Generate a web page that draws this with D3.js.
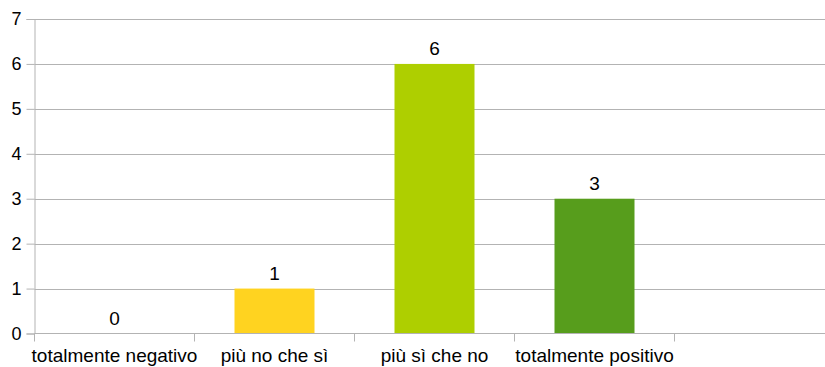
<!DOCTYPE html>
<html>
<head>
<meta charset="utf-8">
<script src="https://cdn.jsdelivr.net/npm/d3@7"></script>
<style>
  html, body { margin: 0; padding: 0; background: #fff; }
  svg { display: block; }
  text { font-family: "Liberation Sans", Arial, sans-serif; fill: #000; }
</style>
</head>
<body>
<svg id="chart" width="825" height="367"></svg>
<script>
// Giudizi raccolti, quattro categorie
const categories = ["totalmente negativo", "più no che sì", "più sì che no", "totalmente positivo"];
const values = [0, 1, 6, 3];
const colors = ["#004586", "#ffd320", "#aecf00", "#579d1c"];
const yTicks = [0, 1, 2, 3, 4, 5, 6, 7];

const W = 825, H = 367;
const plotLeft = 34.5, plotTop = 19, plotBottom = 333.5;
const slotCount = 5;                 // one empty slot on the right
const slotWidth = 160;
const gridColor = "#b3b3b3";

const svg = d3.select("#chart");

const slot = d3.scaleBand()
  .domain(d3.range(slotCount))
  .range([plotLeft, plotLeft + slotCount * slotWidth])
  .padding(0);

const y = d3.scaleLinear().domain([0, 7]).range([plotBottom, plotTop]);

// horizontal grid lines
svg.append("g")
  .selectAll("line")
  .data(yTicks.filter(d => d > 0))
  .join("line")
  .attr("x1", plotLeft).attr("x2", W)
  .attr("y1", d => Math.round(y(d)) + 0.5).attr("y2", d => Math.round(y(d)) + 0.5)
  .attr("stroke", gridColor).attr("stroke-width", 1);

// bars
const bw = slot.bandwidth();
svg.append("g")
  .selectAll("rect")
  .data(values)
  .join("rect")
  .attr("x", (d, i) => slot(i) + bw * 0.25)
  .attr("width", bw * 0.5)
  .attr("y", d => y(d))
  .attr("height", d => y(0) - y(d))
  .attr("fill", (d, i) => colors[i]);

// value labels
svg.append("g")
  .selectAll("text")
  .data(values)
  .join("text")
  .attr("x", (d, i) => slot(i) + bw / 2)
  .attr("y", d => y(d) - 9)
  .attr("text-anchor", "middle")
  .attr("font-size", 19)
  .text(d => d);

// y axis
const yAxis = d3.axisLeft(y).tickValues(yTicks).tickSize(8).tickPadding(5).tickFormat(d3.format("d"));
const gy = svg.append("g").attr("transform", `translate(${plotLeft},0)`).call(yAxis);
gy.select(".domain").attr("stroke", gridColor);
gy.selectAll(".tick line").attr("stroke", gridColor);
gy.selectAll(".tick text").attr("font-size", 18).attr("fill", "#000")
  .style("font-family", "'Liberation Sans', Arial, sans-serif");

// x axis: baseline, ticks on slot boundaries, centred labels
const gx = svg.append("g");
gx.append("line")
  .attr("x1", plotLeft).attr("x2", W)
  .attr("y1", plotBottom).attr("y2", plotBottom)
  .attr("stroke", gridColor);
gx.selectAll("line.tick")
  .data(d3.range(slotCount + 1))
  .join("line")
  .attr("class", "tick")
  .attr("x1", i => plotLeft + i * bw).attr("x2", i => plotLeft + i * bw)
  .attr("y1", plotBottom).attr("y2", plotBottom + 8)
  .attr("stroke", gridColor);
gx.selectAll("text")
  .data(categories)
  .join("text")
  .attr("x", (d, i) => slot(i) + bw / 2)
  .attr("y", 362)
  .attr("text-anchor", "middle")
  .attr("font-size", 19)
  .text(d => d);
</script>
</body>
</html>
